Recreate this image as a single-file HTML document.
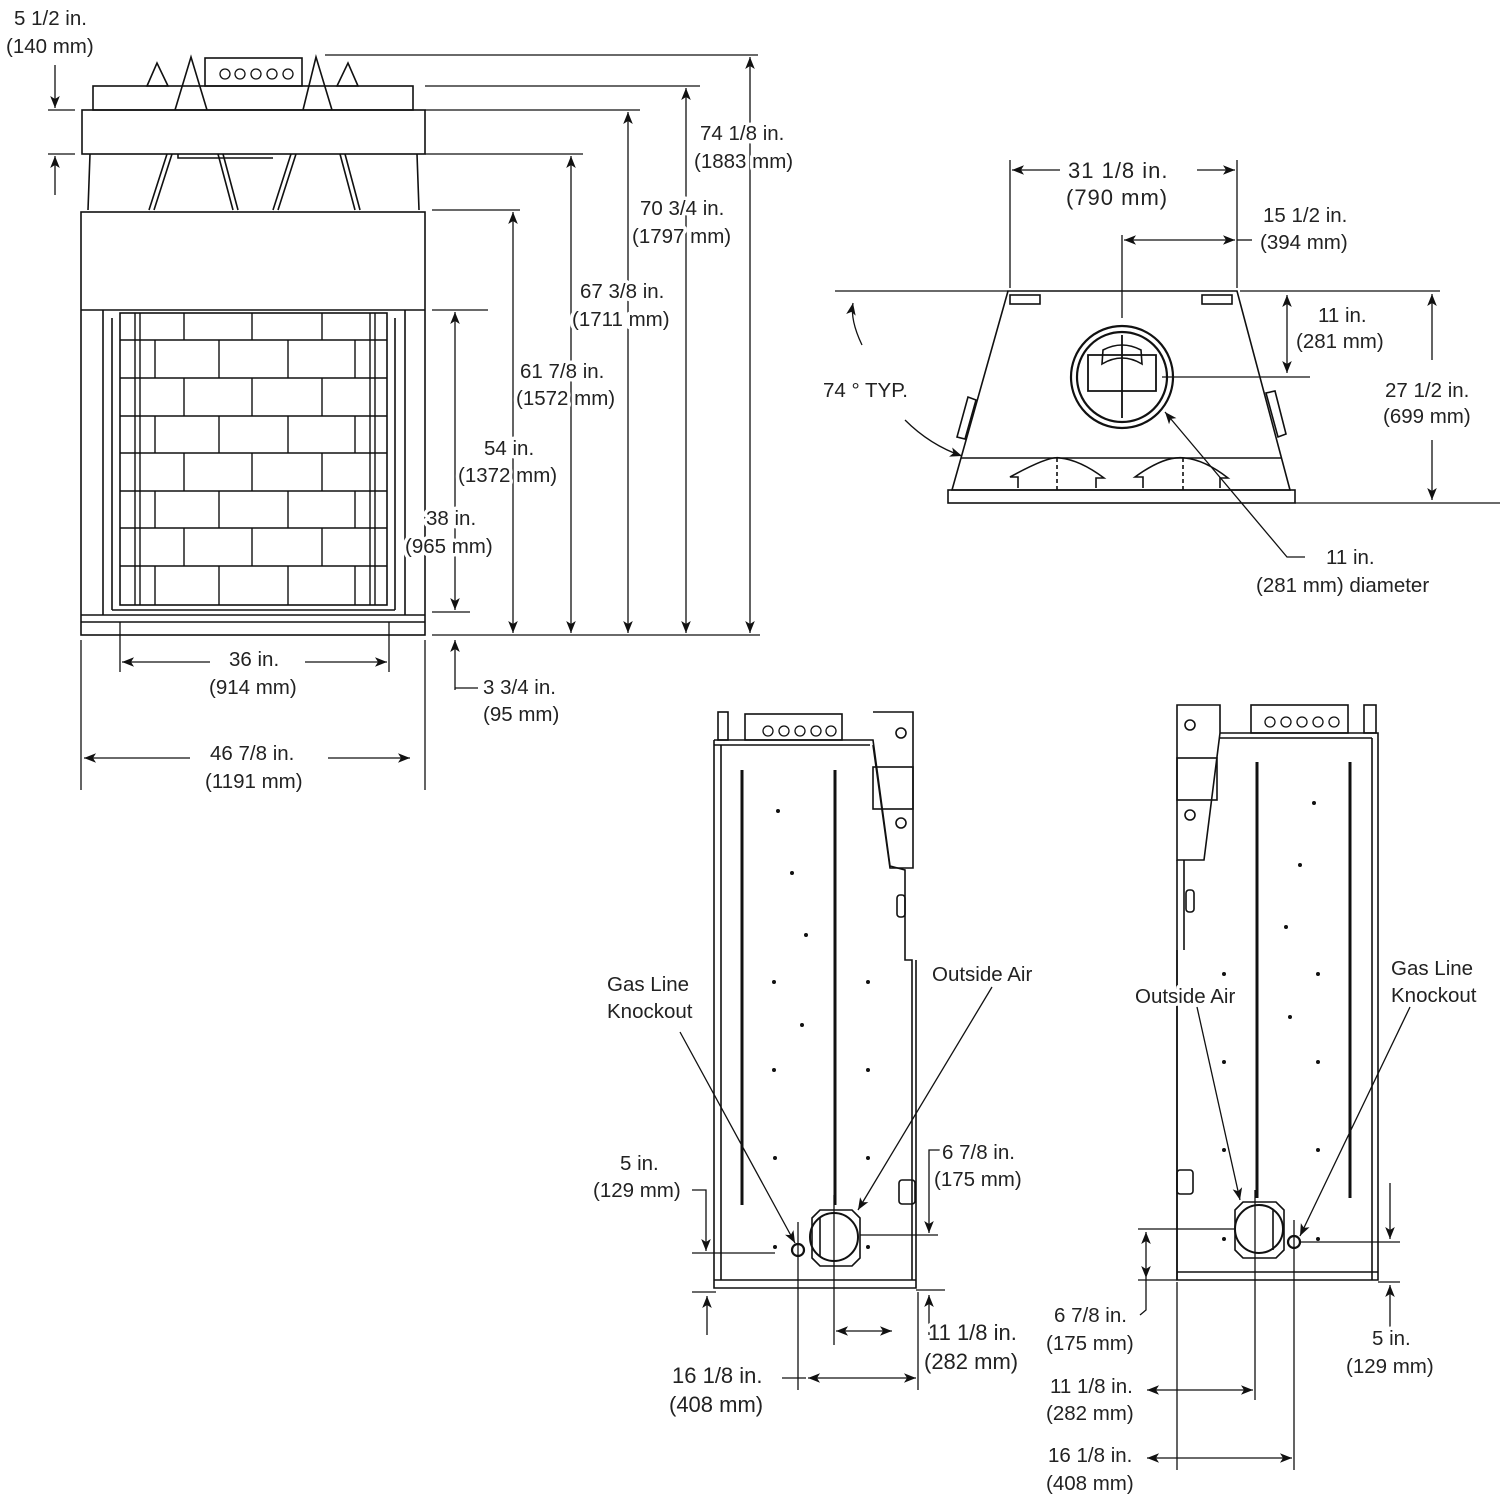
<!DOCTYPE html>
<html><head><meta charset="utf-8"><style>
html,body{margin:0;padding:0;background:#fff;width:1500px;height:1500px;overflow:hidden}
svg{display:block}
text{font-family:"Liberation Sans",Arial,sans-serif;fill:#222;font-size:20.5px;stroke:#fff;stroke-width:7px;paint-order:stroke;stroke-linejoin:round}
</style></head><body>
<svg width="1500" height="1500" viewBox="0 0 1500 1500" xmlns="http://www.w3.org/2000/svg">
<defs>
<marker id="a" viewBox="0 0 10 10" refX="10" refY="5" markerWidth="17" markerHeight="12" markerUnits="userSpaceOnUse" orient="auto-start-reverse"><path d="M0,1 L10,5 L0,9 L2.5,5 z" fill="#111"/></marker>
</defs>
<g stroke="#111" stroke-width="1.6" fill="none">
<polygon points="147,86 157,63 168,86"/><polygon points="337,86 348,63 358,86"/>
<path d="M175,110 L191,57 L207,110 M303,110 L316,57 L332,110"/>
<rect x="205" y="58" width="97" height="28"/>
<g stroke-width="1.3"><circle cx="225" cy="74" r="5"/><circle cx="240" cy="74" r="5"/><circle cx="256" cy="74" r="5"/><circle cx="272" cy="74" r="5"/><circle cx="288" cy="74" r="5"/></g>
<rect x="93" y="86" width="320" height="24"/>
<rect x="82" y="110" width="343" height="44"/>
<path d="M90,154 L88,210 M417,154 L419,210 M178,154 L178,158 L273,158"/>
<path d="M167,154 L149,210 M172,154 L154,210 M218,154 L233,210 M223,154 L238,210 M291,154 L273,210 M296,154 L278,210 M340,154 L355,210 M345,154 L360,210"/>
<rect x="81" y="212" width="344" height="423"/>
<path d="M81,310 L425,310"/>
<path d="M103,310 L103,615 M405,310 L405,615"/>
<path d="M112,318 L112,610 M395,318 L395,610 M81,615 L425,615 M81,622 L425,622 M112,610 L395,610"/>
<rect x="120" y="313" width="267" height="292"/>
<g stroke-width="1.4">
<path d="M120,340 L387,340 M120,378 L387,378 M120,416 L387,416 M120,453 L387,453 M120,491 L387,491 M120,528 L387,528 M120,566 L387,566"/>
<path d="M184,313 V340 M252,313 V340 M322,313 V340"/>
<path d="M155,340 V378 M219,340 V378 M288,340 V378 M355,340 V378"/>
<path d="M184,378 V416 M252,378 V416 M322,378 V416"/>
<path d="M155,416 V453 M219,416 V453 M288,416 V453 M355,416 V453"/>
<path d="M184,453 V491 M252,453 V491 M322,453 V491"/>
<path d="M155,491 V528 M219,491 V528 M288,491 V528 M355,491 V528"/>
<path d="M184,528 V566 M252,528 V566 M322,528 V566"/>
<path d="M155,566 V605 M219,566 V605 M288,566 V605 M355,566 V605"/>
<path d="M135,313 V605 M140,313 V605 M370,313 V605 M375,313 V605"/>
</g>
</g>
<g stroke="#111" stroke-width="1.3" fill="none">
<path d="M48,110 L75,110 M48,154 L75,154"/>
<path d="M55,65 L55,108" marker-end="url(#a)"/><path d="M55,195 L55,156" marker-end="url(#a)"/>
<path d="M325,55 L758,55 M425,86 L700,86 M425,110 L640,110 M425,154 L583,154 M432,210 L520,210 M432,310 L488,310 M432,612 L470,612 M432,635 L760,635"/>
<path d="M750,57 V633" marker-start="url(#a)" marker-end="url(#a)"/>
<path d="M686,88 V633" marker-start="url(#a)" marker-end="url(#a)"/>
<path d="M628,112 V633" marker-start="url(#a)" marker-end="url(#a)"/>
<path d="M571,156 V633" marker-start="url(#a)" marker-end="url(#a)"/>
<path d="M513,212 V633" marker-start="url(#a)" marker-end="url(#a)"/>
<path d="M455,312 V610" marker-start="url(#a)" marker-end="url(#a)"/>
<path d="M455,690 L455,640" marker-end="url(#a)"/><path d="M455,688 L478,688"/>
<path d="M120,622 V672 M389,622 V672 M81,640 V790 M425,640 V790"/>
<path d="M210,662 L122,662" marker-end="url(#a)"/><path d="M305,662 L387,662" marker-end="url(#a)"/>
<path d="M190,758 L84,758" marker-end="url(#a)"/><path d="M328,758 L410,758" marker-end="url(#a)"/>
</g>
<text x="14" y="25">5 1/2 in.</text><text x="6" y="53">(140 mm)</text>
<text x="700" y="140">74 1/8 in.</text><text x="694" y="168">(1883 mm)</text>
<text x="640" y="215">70 3/4 in.</text><text x="632" y="243">(1797 mm)</text>
<text x="580" y="298">67 3/8 in.</text><text x="572" y="326">(1711 mm)</text>
<text x="520" y="378">61 7/8  in.</text><text x="516" y="405">(1572 mm)</text>
<text x="484" y="455">54 in.</text><text x="458" y="482">(1372 mm)</text>
<text x="426" y="525">38 in.</text><text x="405" y="553">(965 mm)</text>
<text x="483" y="694">3 3/4 in.</text><text x="483" y="721">(95 mm)</text>
<text x="229" y="666">36 in.</text><text x="209" y="694">(914 mm)</text>
<text x="210" y="760">46 7/8 in.</text><text x="205" y="788">(1191 mm)</text>

<g stroke="#111" stroke-width="1.6" fill="none">
<path d="M1008,291 L1237,291 L1290,490 L952,490 Z"/>
<rect x="948" y="490" width="347" height="13"/>
<path d="M961,458 L1281,458"/>
<rect x="1010" y="295" width="30" height="9"/><rect x="1202" y="295" width="30" height="9"/>
<path d="M968,397 L957,437 L965,439 L976,400 Z M1266,393 L1278,437 L1286,434 L1275,391 Z"/>
<circle cx="1122" cy="377" r="51" stroke-width="2.2"/><circle cx="1122" cy="377" r="45" stroke-width="2.2"/>
<path d="M1088,355 L1156,355 L1156,391 L1088,391 Z M1122,335 V418 M1088,391 L1122,391" stroke-width="1.8"/>
<path d="M1103,350 L1102,364 Q1122,352 1142,364 L1141,350 Q1122,340 1103,350 Z"/>
<path d="M1018,488 L1018,477 L1010,477 Q1050,455 1060,458 Q1080,460 1104,478 L1096,478 L1096,488 M1143,488 L1143,477 L1135,477 Q1165,455 1185,458 Q1205,460 1228,478 L1220,478 L1220,488"/>
<path d="M1057,458 V490 M1183,458 V490" stroke-dasharray="4,3"/>
</g>
<g stroke="#111" stroke-width="1.3" fill="none">
<path d="M1010,160 V288 M1237,160 V288 M835,291 L1008,291 M1122,235 V318 M1162,377 L1310,377 M1240,291 L1440,291 M1295,503 L1500,503"/>
<path d="M1060,170 L1012,170" marker-end="url(#a)"/><path d="M1197,170 L1235,170" marker-end="url(#a)"/>
<path d="M1124,240 L1235,240" marker-start="url(#a)" marker-end="url(#a)"/><path d="M1237,240 L1252,240"/>
<path d="M1287,295 V373" marker-start="url(#a)" marker-end="url(#a)"/>
<path d="M1432,360 L1432,294" marker-end="url(#a)"/><path d="M1432,440 L1432,500" marker-end="url(#a)"/>
<path d="M862,345 Q850,320 853,303" marker-end="url(#a)"/>
<path d="M905,420 Q930,445 962,456" marker-end="url(#a)"/>
<path d="M1305,557 L1287,557 L1165,412" marker-end="url(#a)"/>
</g>
<text x="1068" y="178" style="font-size:22px;letter-spacing:1px">31 1/8 in.</text><text x="1066" y="205" style="font-size:22px;letter-spacing:1px">(790 mm)</text>
<text x="1263" y="222">15 1/2 in.</text><text x="1260" y="249">(394 mm)</text>
<text x="1318" y="322">11 in.</text><text x="1296" y="348">(281 mm)</text>
<text x="1385" y="397">27 1/2 in.</text><text x="1383" y="423">(699 mm)</text>
<text x="823" y="397">74 ° TYP.</text>
<text x="1326" y="564">11 in.</text><text x="1256" y="592">(281 mm) diameter</text>

<g stroke="#111" stroke-width="1.6" fill="none">
<rect x="718" y="712" width="10" height="28"/>
<rect x="745" y="714" width="97" height="26"/>
<g stroke-width="1.3"><circle cx="768" cy="731" r="5"/><circle cx="784" cy="731" r="5"/><circle cx="800" cy="731" r="5"/><circle cx="816" cy="731" r="5"/><circle cx="831" cy="731" r="5"/></g>
<path d="M714,740 L873,740 L890,866 L905,870 L905,960 L912,960 L912,1280"/>
<path d="M714,745 L870,745"/>
<path d="M714,740 V1288 L916,1288 L916,960 M721,745 V1280 M714,1280 L916,1280"/>
<path d="M873,712 L913,712 L913,868 L890,868 L873,745"/>
<rect x="873" y="767" width="40" height="42"/>
<circle cx="901" cy="733" r="5"/><circle cx="901" cy="823" r="5"/>
<path d="M742,770 V1205 M835,770 V1205" stroke-width="3"/>
<rect x="897" y="895" width="8" height="22" rx="3"/>
<rect x="899" y="1180" width="16" height="24" rx="3"/>
<path d="M820,1210 L852,1210 L860,1218 L860,1258 L852,1266 L820,1266 L812,1258 L812,1218 Z"/>
<circle cx="834" cy="1237" r="24" stroke-width="2"/><path d="M820,1217 V1257"/>
<circle cx="798" cy="1250" r="6" stroke-width="2.2"/>
</g>
<g fill="#111">
<circle cx="778" cy="811" r="2"/><circle cx="792" cy="873" r="2"/><circle cx="806" cy="935" r="2"/><circle cx="774" cy="982" r="2"/><circle cx="868" cy="982" r="2"/><circle cx="802" cy="1025" r="2"/><circle cx="774" cy="1070" r="2"/><circle cx="868" cy="1070" r="2"/><circle cx="775" cy="1158" r="2"/><circle cx="868" cy="1158" r="2"/><circle cx="775" cy="1247" r="2"/><circle cx="868" cy="1247" r="2"/>
</g>
<g stroke="#111" stroke-width="1.3" fill="none">
<path d="M692,1253 L775,1253 M692,1292 L716,1292 M798,1222 V1390 M834,1195 V1345 M860,1235 L938,1235 M918,1292 V1390 M916,1290 L945,1290"/>
<path d="M692,1190 L706,1190 L706,1251" marker-end="url(#a)"/>
<path d="M707,1335 L707,1296" marker-end="url(#a)"/>
<path d="M942,1150 L929,1150 L929,1233" marker-end="url(#a)"/>
<path d="M929,1335 L929,1295" marker-end="url(#a)"/>
<path d="M836,1331 L892,1331" marker-start="url(#a)" marker-end="url(#a)"/>
<path d="M782,1378 L806,1378"/><path d="M860,1378 L916,1378" marker-end="url(#a)"/><path d="M860,1378 L808,1378" marker-end="url(#a)"/>
<path d="M680,1032 L795,1243" marker-end="url(#a)"/>
<path d="M992,987 L858,1210" marker-end="url(#a)"/>
</g>
<text x="607" y="991">Gas Line</text><text x="607" y="1018">Knockout</text>
<text x="932" y="981">Outside Air</text>
<text x="620" y="1170">5 in.</text><text x="593" y="1197">(129 mm)</text>
<text x="942" y="1159">6 7/8 in.</text><text x="934" y="1186">(175 mm)</text>
<text x="928" y="1340" style="font-size:22px">11 1/8 in.</text><text x="924" y="1369" style="font-size:22px">(282 mm)</text>
<text x="672" y="1383" style="font-size:22px">16 1/8 in.</text><text x="669" y="1412" style="font-size:22px">(408 mm)</text>

<g stroke="#111" stroke-width="1.6" fill="none">
<rect x="1364" y="705" width="12" height="28"/>
<rect x="1251" y="705" width="97" height="28"/>
<g stroke-width="1.3"><circle cx="1270" cy="722" r="5"/><circle cx="1286" cy="722" r="5"/><circle cx="1302" cy="722" r="5"/><circle cx="1318" cy="722" r="5"/><circle cx="1334" cy="722" r="5"/></g>
<path d="M1220,733 L1378,733 L1378,1280 L1177,1280 L1177,860 M1220,738 L1372,738 M1372,738 V1280 M1177,1272 L1378,1272"/>
<path d="M1177,705 L1220,705 L1220,733 L1204,860 L1177,860 Z"/>
<rect x="1177" y="758" width="40" height="42"/>
<circle cx="1190" cy="725" r="5"/><circle cx="1190" cy="815" r="5"/>
<path d="M1184,860 V950 M1177,950 V1280"/>
<path d="M1257,762 V1198 M1350,762 V1198" stroke-width="3"/>
<rect x="1186" y="890" width="8" height="22" rx="3"/>
<rect x="1177" y="1170" width="16" height="24" rx="3"/>
<path d="M1243,1202 L1276,1202 L1284,1210 L1284,1250 L1276,1258 L1243,1258 L1235,1250 L1235,1210 Z"/>
<circle cx="1259" cy="1229" r="24" stroke-width="2"/><path d="M1273,1210 V1250"/>
<circle cx="1294" cy="1242" r="6" stroke-width="2.2"/>
</g>
<g fill="#111">
<circle cx="1314" cy="803" r="2"/><circle cx="1300" cy="865" r="2"/><circle cx="1286" cy="927" r="2"/><circle cx="1224" cy="974" r="2"/><circle cx="1318" cy="974" r="2"/><circle cx="1290" cy="1017" r="2"/><circle cx="1224" cy="1062" r="2"/><circle cx="1318" cy="1062" r="2"/><circle cx="1224" cy="1150" r="2"/><circle cx="1318" cy="1150" r="2"/><circle cx="1224" cy="1239" r="2"/><circle cx="1318" cy="1239" r="2"/>
</g>
<g stroke="#111" stroke-width="1.3" fill="none">
<path d="M1138,1229 L1236,1229 M1138,1280 L1177,1280 M1300,1242 L1400,1242 M1378,1282 L1400,1282 M1177,1282 V1470 M1255,1190 V1400 M1294,1220 V1470"/>
<path d="M1146,1232 V1278" marker-start="url(#a)" marker-end="url(#a)"/>
<path d="M1146,1278 L1146,1310 L1140,1315"/>
<path d="M1390,1183 L1390,1239" marker-end="url(#a)"/>
<path d="M1390,1330 L1390,1285" marker-end="url(#a)"/>
<path d="M1147,1390 L1179,1390 L1253,1390" marker-start="url(#a)" marker-end="url(#a)"/>
<path d="M1147,1458 L1179,1458 L1292,1458" marker-start="url(#a)" marker-end="url(#a)"/>
<path d="M1197,1007 L1240,1200" marker-end="url(#a)"/>
<path d="M1410,1007 L1300,1236" marker-end="url(#a)"/>
</g>
<text x="1135" y="1003">Outside Air</text>
<text x="1391" y="975">Gas Line</text><text x="1391" y="1002">Knockout</text>
<text x="1054" y="1322">6 7/8 in.</text><text x="1046" y="1350">(175 mm)</text>
<text x="1372" y="1345">5 in.</text><text x="1346" y="1373">(129 mm)</text>
<text x="1050" y="1393">11 1/8 in.</text><text x="1046" y="1420">(282 mm)</text>
<text x="1048" y="1462">16 1/8 in.</text><text x="1046" y="1490">(408 mm)</text>
</svg>
</body></html>
